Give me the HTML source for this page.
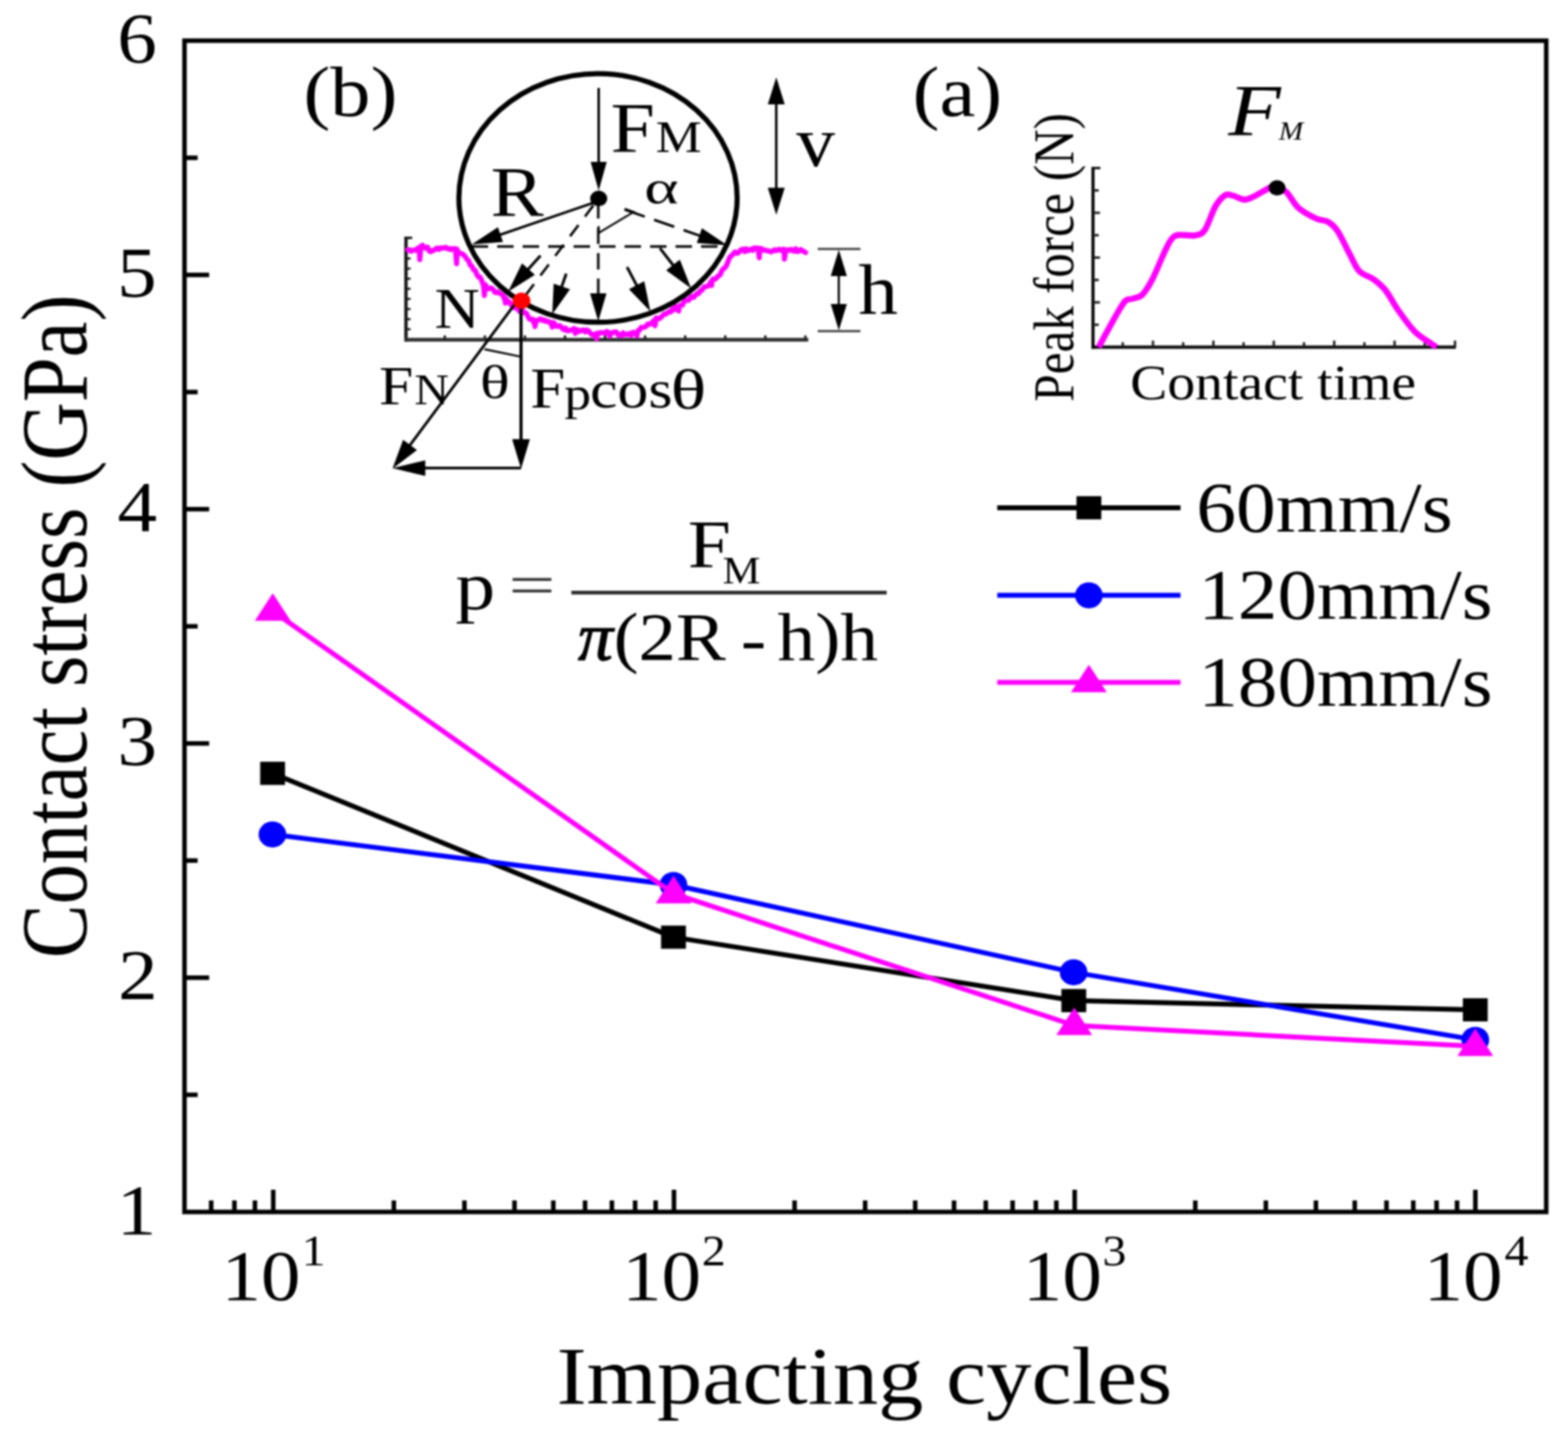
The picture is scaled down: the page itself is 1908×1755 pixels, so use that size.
<!DOCTYPE html>
<html lang="en">
<head>
<meta charset="utf-8">
<title>Contact stress vs impacting cycles</title>
<style>
html,body{margin:0;padding:0;background:#fff;}
body{width:1908px;height:1755px;overflow:hidden;}
svg{display:block;font-family:"Liberation Serif", "DejaVu Serif", serif;filter:blur(1px);}
text{white-space:pre;}
</style>
</head>
<body>
<svg width="1908" height="1755" viewBox="0 0 1908 1755">
<rect x="0" y="0" width="1908" height="1755" fill="#ffffff"/>
<rect x="224.5" y="49.5" width="1657.0" height="1425.5" fill="none" stroke="#000" stroke-width="5.5"/>
<line x1="224.50" y1="1332.45" x2="240.50" y2="1332.45" stroke="#000" stroke-width="5.5" stroke-linecap="butt"/>
<line x1="224.50" y1="1189.90" x2="254.50" y2="1189.90" stroke="#000" stroke-width="5.5" stroke-linecap="butt"/>
<line x1="224.50" y1="1047.35" x2="240.50" y2="1047.35" stroke="#000" stroke-width="5.5" stroke-linecap="butt"/>
<line x1="224.50" y1="904.80" x2="254.50" y2="904.80" stroke="#000" stroke-width="5.5" stroke-linecap="butt"/>
<line x1="224.50" y1="762.25" x2="240.50" y2="762.25" stroke="#000" stroke-width="5.5" stroke-linecap="butt"/>
<line x1="224.50" y1="619.70" x2="254.50" y2="619.70" stroke="#000" stroke-width="5.5" stroke-linecap="butt"/>
<line x1="224.50" y1="477.15" x2="240.50" y2="477.15" stroke="#000" stroke-width="5.5" stroke-linecap="butt"/>
<line x1="224.50" y1="334.60" x2="254.50" y2="334.60" stroke="#000" stroke-width="5.5" stroke-linecap="butt"/>
<line x1="224.50" y1="192.05" x2="240.50" y2="192.05" stroke="#000" stroke-width="5.5" stroke-linecap="butt"/>
<line x1="256.97" y1="1475.00" x2="256.97" y2="1461.00" stroke="#000" stroke-width="5.5" stroke-linecap="butt"/>
<line x1="285.25" y1="1475.00" x2="285.25" y2="1461.00" stroke="#000" stroke-width="5.5" stroke-linecap="butt"/>
<line x1="310.19" y1="1475.00" x2="310.19" y2="1461.00" stroke="#000" stroke-width="5.5" stroke-linecap="butt"/>
<line x1="332.50" y1="1475.00" x2="332.50" y2="1448.00" stroke="#000" stroke-width="5.5" stroke-linecap="butt"/>
<line x1="479.28" y1="1475.00" x2="479.28" y2="1461.00" stroke="#000" stroke-width="5.5" stroke-linecap="butt"/>
<line x1="565.14" y1="1475.00" x2="565.14" y2="1461.00" stroke="#000" stroke-width="5.5" stroke-linecap="butt"/>
<line x1="626.06" y1="1475.00" x2="626.06" y2="1461.00" stroke="#000" stroke-width="5.5" stroke-linecap="butt"/>
<line x1="673.32" y1="1475.00" x2="673.32" y2="1461.00" stroke="#000" stroke-width="5.5" stroke-linecap="butt"/>
<line x1="711.93" y1="1475.00" x2="711.93" y2="1461.00" stroke="#000" stroke-width="5.5" stroke-linecap="butt"/>
<line x1="744.57" y1="1475.00" x2="744.57" y2="1461.00" stroke="#000" stroke-width="5.5" stroke-linecap="butt"/>
<line x1="772.85" y1="1475.00" x2="772.85" y2="1461.00" stroke="#000" stroke-width="5.5" stroke-linecap="butt"/>
<line x1="797.79" y1="1475.00" x2="797.79" y2="1461.00" stroke="#000" stroke-width="5.5" stroke-linecap="butt"/>
<line x1="820.10" y1="1475.00" x2="820.10" y2="1448.00" stroke="#000" stroke-width="5.5" stroke-linecap="butt"/>
<line x1="966.88" y1="1475.00" x2="966.88" y2="1461.00" stroke="#000" stroke-width="5.5" stroke-linecap="butt"/>
<line x1="1052.74" y1="1475.00" x2="1052.74" y2="1461.00" stroke="#000" stroke-width="5.5" stroke-linecap="butt"/>
<line x1="1113.66" y1="1475.00" x2="1113.66" y2="1461.00" stroke="#000" stroke-width="5.5" stroke-linecap="butt"/>
<line x1="1160.92" y1="1475.00" x2="1160.92" y2="1461.00" stroke="#000" stroke-width="5.5" stroke-linecap="butt"/>
<line x1="1199.53" y1="1475.00" x2="1199.53" y2="1461.00" stroke="#000" stroke-width="5.5" stroke-linecap="butt"/>
<line x1="1232.17" y1="1475.00" x2="1232.17" y2="1461.00" stroke="#000" stroke-width="5.5" stroke-linecap="butt"/>
<line x1="1260.45" y1="1475.00" x2="1260.45" y2="1461.00" stroke="#000" stroke-width="5.5" stroke-linecap="butt"/>
<line x1="1285.39" y1="1475.00" x2="1285.39" y2="1461.00" stroke="#000" stroke-width="5.5" stroke-linecap="butt"/>
<line x1="1307.70" y1="1475.00" x2="1307.70" y2="1448.00" stroke="#000" stroke-width="5.5" stroke-linecap="butt"/>
<line x1="1454.48" y1="1475.00" x2="1454.48" y2="1461.00" stroke="#000" stroke-width="5.5" stroke-linecap="butt"/>
<line x1="1540.34" y1="1475.00" x2="1540.34" y2="1461.00" stroke="#000" stroke-width="5.5" stroke-linecap="butt"/>
<line x1="1601.26" y1="1475.00" x2="1601.26" y2="1461.00" stroke="#000" stroke-width="5.5" stroke-linecap="butt"/>
<line x1="1648.52" y1="1475.00" x2="1648.52" y2="1461.00" stroke="#000" stroke-width="5.5" stroke-linecap="butt"/>
<line x1="1687.13" y1="1475.00" x2="1687.13" y2="1461.00" stroke="#000" stroke-width="5.5" stroke-linecap="butt"/>
<line x1="1719.77" y1="1475.00" x2="1719.77" y2="1461.00" stroke="#000" stroke-width="5.5" stroke-linecap="butt"/>
<line x1="1748.05" y1="1475.00" x2="1748.05" y2="1461.00" stroke="#000" stroke-width="5.5" stroke-linecap="butt"/>
<line x1="1772.99" y1="1475.00" x2="1772.99" y2="1461.00" stroke="#000" stroke-width="5.5" stroke-linecap="butt"/>
<line x1="1795.30" y1="1475.00" x2="1795.30" y2="1448.00" stroke="#000" stroke-width="5.5" stroke-linecap="butt"/>
<text transform="translate(141.91,1501.50) scale(1.1000,1)" font-size="87.50" fill="#000">1</text>
<text transform="translate(143.72,1216.40) scale(1.1000,1)" font-size="87.50" fill="#000">2</text>
<text transform="translate(142.88,931.30) scale(1.1000,1)" font-size="87.50" fill="#000">3</text>
<text transform="translate(143.00,646.20) scale(1.1000,1)" font-size="87.50" fill="#000">4</text>
<text transform="translate(142.40,361.10) scale(1.1000,1)" font-size="87.50" fill="#000">5</text>
<text transform="translate(142.64,76.00) scale(1.1000,1)" font-size="87.50" fill="#000">6</text>
<text transform="translate(269.38,1581.50) scale(1.1000,1)" font-size="87.50" fill="#000">10</text>
<text transform="translate(366.90,1539.50) scale(1.1000,1)" font-size="53.00" fill="#000">1</text>
<text transform="translate(756.98,1581.50) scale(1.1000,1)" font-size="87.50" fill="#000">10</text>
<text transform="translate(853.98,1539.50) scale(1.1000,1)" font-size="53.00" fill="#000">2</text>
<text transform="translate(1244.58,1581.50) scale(1.1000,1)" font-size="87.50" fill="#000">10</text>
<text transform="translate(1341.43,1539.50) scale(1.1000,1)" font-size="53.00" fill="#000">3</text>
<text transform="translate(1732.18,1581.50) scale(1.1000,1)" font-size="87.50" fill="#000">10</text>
<text transform="translate(1830.63,1539.50) scale(1.1000,1)" font-size="53.00" fill="#000">4</text>
<text transform="translate(677.15,1707.80) scale(1.1014,1)" font-size="100.00" fill="#000">Impacting cycles</text>
<text transform="translate(105.00,1166.33) scale(1.1729,1) rotate(-90)" font-size="98.27" fill="#000">Contact stress (GPa)</text>
<polyline points="331.7,941.2 819.5,1140.6 1306.6,1217.8 1795.2,1229.0" fill="none" stroke="#000" stroke-width="6.0" stroke-linejoin="round"/>
<rect x="316.6" y="927.1" width="30.2" height="28.2" fill="#000"/>
<rect x="804.4" y="1126.5" width="30.2" height="28.2" fill="#000"/>
<rect x="1291.5" y="1203.7" width="30.2" height="28.2" fill="#000"/>
<rect x="1780.1" y="1214.9" width="30.2" height="28.2" fill="#000"/>
<polyline points="331.5,1015.6 819.5,1077.0 1306.4,1183.4 1795.2,1265.5" fill="none" stroke="#0000ff" stroke-width="6.0" stroke-linejoin="round"/>
<ellipse cx="331.5" cy="1015.6" rx="16.8" ry="15.8" fill="#0000ff"/>
<ellipse cx="819.5" cy="1077.0" rx="16.8" ry="15.8" fill="#0000ff"/>
<ellipse cx="1306.4" cy="1183.4" rx="16.8" ry="15.8" fill="#0000ff"/>
<ellipse cx="1795.2" cy="1265.5" rx="16.8" ry="15.8" fill="#0000ff"/>
<polyline points="331.9,743.8 819.7,1087.6 1307.2,1248.0 1795.2,1273.5" fill="none" stroke="#ff00ff" stroke-width="6.0" stroke-linejoin="round"/>
<polygon points="331.9,722.0 353.7,755.6 310.1,755.6" fill="#ff00ff"/>
<polygon points="819.7,1065.8 841.5,1099.4 797.9,1099.4" fill="#ff00ff"/>
<polygon points="1307.2,1226.2 1329.0,1259.8 1285.4,1259.8" fill="#ff00ff"/>
<polygon points="1795.2,1251.7 1817.0,1285.3 1773.4,1285.3" fill="#ff00ff"/>
<line x1="1213.50" y1="618.00" x2="1436.50" y2="618.00" stroke="#000" stroke-width="6" stroke-linecap="butt"/>
<rect x="1309.9" y="603.9" width="30.2" height="28.2" fill="#000"/>
<text transform="translate(1455.69,646.60) scale(1.1101,1)" font-size="87.20" fill="#000">60mm/s</text>
<line x1="1213.50" y1="724.60" x2="1436.50" y2="724.60" stroke="#0000ff" stroke-width="6" stroke-linecap="butt"/>
<ellipse cx="1325.0" cy="724.6" rx="16.8" ry="15.8" fill="#0000ff"/>
<text transform="translate(1458.29,753.20) scale(1.1026,1)" font-size="87.20" fill="#000">120mm/s</text>
<line x1="1213.50" y1="830.50" x2="1436.50" y2="830.50" stroke="#ff00ff" stroke-width="6" stroke-linecap="butt"/>
<polygon points="1325.0,809.0 1346.8,842.6 1303.2,842.6" fill="#ff00ff"/>
<text transform="translate(1458.29,859.10) scale(1.1026,1)" font-size="87.20" fill="#000">180mm/s</text>
<text transform="translate(554.25,740.70) scale(1.1713,1)" font-size="82.50" fill="#000">p</text>
<text transform="translate(618.84,735.60) scale(1.4470,1)" font-size="70.00" fill="#333">=</text>
<line x1="695.20" y1="721.30" x2="1078.90" y2="721.30" stroke="#2a2a2a" stroke-width="4.6" stroke-linecap="butt"/>
<text transform="translate(837.08,690.20) scale(1.1473,1)" font-size="82.00" fill="#000">F</text>
<text transform="translate(879.25,710.10) scale(1.1386,1)" font-size="45.50" fill="#000">M</text>
<text transform="translate(703.17,803.40) scale(1.0392,1)" font-size="82.00" font-style="italic" fill="#000" stroke="#000" stroke-width="1.3">π</text>
<text transform="translate(746.71,803.40) scale(1.1091,1)" font-size="82.00" fill="#000">(2R</text>
<text transform="translate(901.42,805.40) scale(1.1304,1)" font-size="82.00" fill="#000">-</text>
<text transform="translate(945.88,803.40) scale(1.1227,1)" font-size="82.00" fill="#000">h)h</text>
<line x1="494.00" y1="288.00" x2="494.00" y2="415.70" stroke="#1a1a1a" stroke-width="4.2" stroke-linecap="butt"/>
<line x1="492.00" y1="413.50" x2="983.50" y2="413.50" stroke="#2e2e2e" stroke-width="4.4" stroke-linecap="butt"/>
<line x1="494.00" y1="289.50" x2="501.50" y2="289.50" stroke="#1a1a1a" stroke-width="3" stroke-linecap="butt"/>
<line x1="494.00" y1="400.70" x2="499.60" y2="400.70" stroke="#1a1a1a" stroke-width="2.6" stroke-linecap="butt"/>
<line x1="494.00" y1="388.40" x2="499.60" y2="388.40" stroke="#1a1a1a" stroke-width="2.6" stroke-linecap="butt"/>
<line x1="494.00" y1="376.10" x2="499.60" y2="376.10" stroke="#1a1a1a" stroke-width="2.6" stroke-linecap="butt"/>
<line x1="494.00" y1="363.80" x2="499.60" y2="363.80" stroke="#1a1a1a" stroke-width="2.6" stroke-linecap="butt"/>
<line x1="494.00" y1="351.50" x2="499.60" y2="351.50" stroke="#1a1a1a" stroke-width="2.6" stroke-linecap="butt"/>
<line x1="494.00" y1="339.20" x2="499.60" y2="339.20" stroke="#1a1a1a" stroke-width="2.6" stroke-linecap="butt"/>
<line x1="494.00" y1="326.90" x2="499.60" y2="326.90" stroke="#1a1a1a" stroke-width="2.6" stroke-linecap="butt"/>
<line x1="494.00" y1="314.60" x2="499.60" y2="314.60" stroke="#1a1a1a" stroke-width="2.6" stroke-linecap="butt"/>
<line x1="494.00" y1="302.30" x2="499.60" y2="302.30" stroke="#1a1a1a" stroke-width="2.6" stroke-linecap="butt"/>
<line x1="541.25" y1="413.00" x2="541.25" y2="408.20" stroke="#1a1a1a" stroke-width="2.8" stroke-linecap="butt"/>
<line x1="590.00" y1="413.00" x2="590.00" y2="408.20" stroke="#1a1a1a" stroke-width="2.8" stroke-linecap="butt"/>
<line x1="638.75" y1="413.00" x2="638.75" y2="408.20" stroke="#1a1a1a" stroke-width="2.8" stroke-linecap="butt"/>
<line x1="687.50" y1="413.00" x2="687.50" y2="408.20" stroke="#1a1a1a" stroke-width="2.8" stroke-linecap="butt"/>
<line x1="736.25" y1="413.00" x2="736.25" y2="408.20" stroke="#1a1a1a" stroke-width="2.8" stroke-linecap="butt"/>
<line x1="785.00" y1="413.00" x2="785.00" y2="408.20" stroke="#1a1a1a" stroke-width="2.8" stroke-linecap="butt"/>
<line x1="833.75" y1="413.00" x2="833.75" y2="408.20" stroke="#1a1a1a" stroke-width="2.8" stroke-linecap="butt"/>
<line x1="882.50" y1="413.00" x2="882.50" y2="408.20" stroke="#1a1a1a" stroke-width="2.8" stroke-linecap="butt"/>
<line x1="931.25" y1="413.00" x2="931.25" y2="408.20" stroke="#1a1a1a" stroke-width="2.8" stroke-linecap="butt"/>
<line x1="980.00" y1="413.00" x2="980.00" y2="408.20" stroke="#1a1a1a" stroke-width="2.8" stroke-linecap="butt"/>
<polyline points="496.2,304.0 498.2,304.5 500.2,305.9 502.2,304.3 504.2,304.5 506.2,304.7 508.2,302.1 509.2,302.8 510.2,302.7 510.8,315.9 512.2,299.6 512.4,300.3 514.2,298.5 516.2,301.3 518.2,302.0 520.2,300.7 522.2,305.4 524.2,306.3 526.2,304.9 528.2,304.6 530.2,302.6 532.2,301.9 534.2,303.6 536.2,301.6 538.2,301.9 540.2,301.9 542.2,301.0 544.2,302.6 546.2,302.4 548.2,303.8 550.2,302.5 552.2,302.9 554.0,302.7 554.2,303.5 555.6,320.8 556.2,303.3 557.2,306.7 558.2,307.4 560.2,308.2 562.2,309.0 564.2,310.2 566.2,312.5 568.2,315.4 570.2,317.3 572.2,322.6 574.2,323.8 576.2,328.2 578.2,329.0 580.2,334.0 582.2,337.1 584.2,337.4 586.2,341.5 587.8,346.2 588.2,345.0 589.4,359.6 590.2,347.2 591.0,346.9 592.2,350.1 594.2,351.5 596.2,350.5 598.2,350.7 600.2,352.5 602.2,355.8 604.2,356.1 606.2,355.2 608.2,357.1 610.2,358.0 612.2,359.3 613.4,363.3 614.2,361.8 615.0,368.8 616.2,364.8 616.6,364.3 618.2,367.9 620.2,367.7 622.2,371.6 624.2,371.6 626.2,374.8 628.2,375.1 630.2,375.9 632.2,379.2 634.2,379.2 636.2,378.0 638.2,380.8 640.2,380.8 642.2,384.4 644.2,388.3 646.2,388.9 648.2,388.4 649.4,392.7 650.2,390.3 651.0,397.3 652.2,392.1 652.6,390.3 654.2,389.8 656.2,388.5 658.2,388.1 660.2,390.1 662.2,389.3 664.2,391.2 666.2,390.8 668.2,391.6 670.2,394.1 670.4,392.3 672.0,398.1 672.2,394.6 673.6,392.7 674.2,392.9 676.2,396.8 678.2,397.4 680.2,396.3 682.2,396.9 684.2,399.8 686.2,401.4 688.2,399.4 690.2,402.6 692.2,402.5 694.2,401.7 696.2,401.2 698.2,400.1 698.4,399.9 700.0,405.8 700.2,400.9 701.6,402.8 702.2,401.1 704.2,403.5 706.2,402.8 708.2,401.8 710.2,401.6 712.2,403.9 714.2,401.6 716.2,402.9 718.2,405.2 720.2,407.3 722.2,407.4 724.2,406.9 724.4,409.3 726.0,412.3 726.2,405.5 727.6,406.1 728.2,406.7 730.2,404.8 732.2,404.8 734.2,405.2 736.2,405.5 738.2,403.4 740.2,404.5 740.4,406.5 742.0,409.2 742.2,405.8 743.6,406.1 744.2,405.7 746.2,404.3 748.2,404.1 750.2,404.2 752.2,407.8 754.2,407.3 756.2,408.5 758.2,405.1 760.2,407.4 762.2,406.7 764.2,407.4 766.2,405.7 768.2,408.1 770.2,404.5 772.2,405.2 773.4,405.0 774.2,404.9 775.0,408.8 776.2,402.5 776.6,402.6 778.2,401.7 780.2,398.3 782.2,398.5 784.2,398.2 786.2,397.1 788.2,394.3 790.2,394.6 792.2,393.8 794.2,391.6 795.4,391.0 796.2,389.6 797.0,396.5 798.2,389.1 798.6,386.8 800.2,387.9 802.2,387.9 804.2,386.1 806.2,384.3 808.2,382.0 810.2,382.3 812.2,380.7 814.2,379.2 816.2,379.7 818.2,375.8 820.2,377.1 822.2,373.1 824.2,374.0 824.4,373.4 826.0,378.5 826.2,373.1 827.6,371.5 828.2,371.6 830.2,371.5 832.2,367.6 834.2,365.4 836.2,365.2 838.2,365.3 840.2,362.2 842.2,360.7 844.2,361.9 846.2,359.4 848.2,357.0 850.2,357.2 852.2,353.5 854.2,353.1 856.2,349.7 858.2,348.9 860.2,348.7 862.2,347.4 864.2,345.6 864.4,343.6 866.0,347.5 866.2,341.7 867.6,339.6 868.2,340.4 870.2,339.8 872.2,338.0 874.2,335.5 876.2,334.5 878.2,329.7 880.2,327.0 882.2,325.8 884.2,322.6 886.2,317.3 888.2,312.9 890.2,311.2 892.2,309.0 894.2,306.7 896.2,308.1 898.2,308.0 900.2,305.4 902.2,303.7 904.2,303.2 906.2,306.2 908.2,302.8 910.2,305.1 912.2,304.3 914.2,303.0 916.2,304.6 918.2,301.6 920.2,302.2 922.2,303.6 922.4,301.9 924.0,313.8 924.2,302.9 925.6,302.6 926.2,302.3 928.2,304.6 930.2,304.0 932.2,304.9 934.2,305.1 936.2,305.8 938.2,306.5 940.2,305.7 942.2,304.0 944.2,305.2 946.2,304.3 948.2,303.3 950.2,304.8 952.2,305.4 952.9,303.3 954.2,303.5 954.5,315.3 956.1,304.8 956.2,304.1 958.2,304.2 960.2,304.6 962.2,303.4 964.2,305.1 966.2,305.7 968.2,302.8 970.2,306.2 972.2,305.6 974.2,303.6 976.2,305.1 978.2,306.0 980.2,307.3" fill="none" stroke="#ff00ff" stroke-width="6.2" stroke-linejoin="round" stroke-linecap="round"/>
<ellipse cx="727.7" cy="240.9" rx="169.3" ry="151.3" fill="none" stroke="#000" stroke-width="6.2"/>
<line x1="574.00" y1="300.00" x2="883.00" y2="300.00" stroke="#000" stroke-width="3" stroke-linecap="butt" stroke-dasharray="20 11"/>
<line x1="728.00" y1="246.00" x2="728.00" y2="360.40" stroke="#000" stroke-width="3" stroke-dasharray="20 11" stroke-dashoffset="0"/>
<polygon points="728.00,391.00 718.00,357.00 738.00,357.00" fill="#000"/>
<line x1="760.00" y1="255.00" x2="854.40" y2="287.85" stroke="#000" stroke-width="3" stroke-dasharray="26 12" stroke-dashoffset="0"/>
<polygon points="885.00,298.50 847.88,295.64 854.12,277.70" fill="#000"/>
<line x1="722.00" y1="250.00" x2="636.00" y2="364.00" stroke="#000" stroke-width="3" stroke-linecap="butt" stroke-dasharray="17 13"/>
<line x1="657.70" y1="311.10" x2="640.54" y2="330.22" stroke="#000" stroke-width="3.4"/>
<polygon points="618.30,355.00 635.20,320.45 650.83,334.48" fill="#000"/>
<line x1="689.00" y1="333.00" x2="682.50" y2="351.95" stroke="#000" stroke-width="3.4"/>
<polygon points="672.00,382.60 673.74,345.14 693.60,351.95" fill="#000"/>
<line x1="763.00" y1="325.00" x2="776.32" y2="350.32" stroke="#000" stroke-width="3.4"/>
<polygon points="791.40,379.00 765.35,352.03 783.94,342.25" fill="#000"/>
<line x1="803.00" y1="302.00" x2="821.14" y2="325.40" stroke="#000" stroke-width="3.4"/>
<polygon points="841.00,351.00 810.64,328.99 827.24,316.12" fill="#000"/>
<line x1="728.50" y1="283.50" x2="771.00" y2="258.00" stroke="#000" stroke-width="2.2" stroke-linecap="butt"/>
<line x1="728.50" y1="283.50" x2="728.50" y2="275.00" stroke="#000" stroke-width="2.2" stroke-linecap="butt"/>
<line x1="760.00" y1="254.00" x2="773.00" y2="258.50" stroke="#000" stroke-width="2.2" stroke-linecap="butt"/>
<line x1="726.00" y1="245.50" x2="605.51" y2="286.72" stroke="#000" stroke-width="3.0"/>
<polygon points="574.00,297.50 605.93,276.53 612.08,294.51" fill="#000"/>
<line x1="728.50" y1="107.00" x2="728.50" y2="200.50" stroke="#000" stroke-width="3.0"/>
<polygon points="728.50,232.00 718.70,197.00 738.30,197.00" fill="#000"/>
<ellipse cx="728.5" cy="241.6" rx="10.5" ry="9.5" fill="#000"/>
<line x1="629.50" y1="366.00" x2="496.83" y2="544.50" stroke="#000" stroke-width="3.3"/>
<polygon points="477.50,570.50 490.55,535.34 507.40,547.87" fill="#000"/>
<line x1="634.00" y1="368.00" x2="634.00" y2="538.00" stroke="#000" stroke-width="3.8"/>
<polygon points="634.00,570.40 623.20,534.40 644.80,534.40" fill="#000"/>
<line x1="634.00" y1="569.70" x2="513.50" y2="569.70" stroke="#000" stroke-width="3.3"/>
<polygon points="477.50,569.70 517.50,560.20 517.50,579.20" fill="#000"/>
<line x1="589.50" y1="425.00" x2="632.50" y2="433.80" stroke="#000" stroke-width="2.3" stroke-linecap="butt"/>
<ellipse cx="634.6" cy="366" rx="10.8" ry="10" fill="#ff0000"/>
<line x1="944.60" y1="123.70" x2="944.60" y2="231.90" stroke="#000" stroke-width="3.0"/>
<polygon points="944.60,261.60 934.30,228.60 954.90,228.60" fill="#000"/>
<polygon points="944.60,94.00 934.30,127.00 954.90,127.00" fill="#000"/>
<line x1="995.00" y1="303.00" x2="1047.00" y2="303.00" stroke="#333" stroke-width="2.6" stroke-linecap="butt"/>
<line x1="995.00" y1="403.00" x2="1047.00" y2="403.00" stroke="#333" stroke-width="2.6" stroke-linecap="butt"/>
<line x1="1020.70" y1="332.80" x2="1020.70" y2="373.20" stroke="#000" stroke-width="2.6"/>
<polygon points="1020.70,402.00 1010.90,370.00 1030.50,370.00" fill="#000"/>
<polygon points="1020.70,304.00 1010.90,336.00 1030.50,336.00" fill="#000"/>
<text transform="translate(369.19,141.40) scale(1.1250,1)" font-size="87.20" fill="#000">(b)</text>
<text transform="translate(597.09,263.00) scale(1.1200,1)" font-size="86.50" fill="#000">R</text>
<text transform="translate(743.09,185.00) scale(1.1200,1)" font-size="86.50" fill="#000">F</text>
<text transform="translate(798.12,185.00) scale(1.1200,1)" font-size="56.00" fill="#000">M</text>
<text transform="translate(784.02,247.00) scale(1.3719,1)" font-size="58.00" fill="#000">α</text>
<text transform="translate(969.00,202.00) scale(1.0800,1)" font-size="87.00" fill="#000">v</text>
<text transform="translate(1044.54,381.50) scale(1.1200,1)" font-size="86.00" fill="#000">h</text>
<text transform="translate(528.71,399.00) scale(1.0900,1)" font-size="70.00" fill="#000">N</text>
<text transform="translate(461.36,492.00) scale(1.1000,1)" font-size="68.00" fill="#000">F</text>
<text transform="translate(504.25,492.00) scale(1.1200,1)" font-size="52.00" fill="#000">N</text>
<text transform="translate(583.91,484.00) scale(1.3507,1)" font-size="56.00" fill="#000">θ</text>
<text transform="translate(645.21,496.00) scale(1.1000,1)" font-size="69.50" fill="#000">F</text>
<text transform="translate(686.63,498.00) scale(1.1200,1)" font-size="58.00" fill="#000">p</text>
<text transform="translate(717.88,496.00) scale(1.1412,1)" font-size="66.00" fill="#000">cos</text>
<text transform="translate(815.99,496.50) scale(1.3348,1)" font-size="68.00" fill="#000">θ</text>
<text transform="translate(1110.59,141.40) scale(1.1250,1)" font-size="87.20" fill="#000">(a)</text>
<line x1="1330.00" y1="203.00" x2="1330.00" y2="424.40" stroke="#0a0a0a" stroke-width="3.9" stroke-linecap="butt"/>
<line x1="1328.10" y1="422.50" x2="1771.50" y2="422.50" stroke="#0a0a0a" stroke-width="3.9" stroke-linecap="butt"/>
<line x1="1330.00" y1="204.50" x2="1339.00" y2="204.50" stroke="#1a1a1a" stroke-width="3.0" stroke-linecap="butt"/>
<line x1="1330.00" y1="395.25" x2="1337.00" y2="395.25" stroke="#1a1a1a" stroke-width="2.8" stroke-linecap="butt"/>
<line x1="1330.00" y1="368.00" x2="1338.50" y2="368.00" stroke="#1a1a1a" stroke-width="2.8" stroke-linecap="butt"/>
<line x1="1330.00" y1="340.75" x2="1337.00" y2="340.75" stroke="#1a1a1a" stroke-width="2.8" stroke-linecap="butt"/>
<line x1="1330.00" y1="313.50" x2="1338.50" y2="313.50" stroke="#1a1a1a" stroke-width="2.8" stroke-linecap="butt"/>
<line x1="1330.00" y1="286.25" x2="1337.00" y2="286.25" stroke="#1a1a1a" stroke-width="2.8" stroke-linecap="butt"/>
<line x1="1330.00" y1="259.00" x2="1338.50" y2="259.00" stroke="#1a1a1a" stroke-width="2.8" stroke-linecap="butt"/>
<line x1="1330.00" y1="231.75" x2="1337.00" y2="231.75" stroke="#1a1a1a" stroke-width="2.8" stroke-linecap="butt"/>
<line x1="1366.25" y1="422.50" x2="1366.25" y2="416.50" stroke="#1a1a1a" stroke-width="2.8" stroke-linecap="butt"/>
<line x1="1403.00" y1="422.50" x2="1403.00" y2="414.50" stroke="#1a1a1a" stroke-width="2.8" stroke-linecap="butt"/>
<line x1="1439.75" y1="422.50" x2="1439.75" y2="416.50" stroke="#1a1a1a" stroke-width="2.8" stroke-linecap="butt"/>
<line x1="1476.50" y1="422.50" x2="1476.50" y2="414.50" stroke="#1a1a1a" stroke-width="2.8" stroke-linecap="butt"/>
<line x1="1513.25" y1="422.50" x2="1513.25" y2="416.50" stroke="#1a1a1a" stroke-width="2.8" stroke-linecap="butt"/>
<line x1="1550.00" y1="422.50" x2="1550.00" y2="414.50" stroke="#1a1a1a" stroke-width="2.8" stroke-linecap="butt"/>
<line x1="1586.75" y1="422.50" x2="1586.75" y2="416.50" stroke="#1a1a1a" stroke-width="2.8" stroke-linecap="butt"/>
<line x1="1623.50" y1="422.50" x2="1623.50" y2="414.50" stroke="#1a1a1a" stroke-width="2.8" stroke-linecap="butt"/>
<line x1="1660.25" y1="422.50" x2="1660.25" y2="416.50" stroke="#1a1a1a" stroke-width="2.8" stroke-linecap="butt"/>
<line x1="1697.00" y1="422.50" x2="1697.00" y2="414.50" stroke="#1a1a1a" stroke-width="2.8" stroke-linecap="butt"/>
<line x1="1733.75" y1="422.50" x2="1733.75" y2="416.50" stroke="#1a1a1a" stroke-width="2.8" stroke-linecap="butt"/>
<line x1="1770.50" y1="422.50" x2="1770.50" y2="414.50" stroke="#1a1a1a" stroke-width="2.8" stroke-linecap="butt"/>
<path d="M1337.0,422.4 C1340.3,416.3 1351.7,395.0 1357.0,385.7 C1362.3,376.4 1365.5,370.3 1369.0,366.6 C1372.5,362.9 1374.5,364.9 1378.0,363.6 C1381.5,362.3 1385.8,362.7 1389.7,359.0 C1393.6,355.3 1397.0,349.9 1401.4,341.6 C1405.8,333.3 1412.1,317.3 1416.0,309.0 C1419.9,300.7 1422.0,295.5 1425.0,291.7 C1428.0,287.9 1428.9,286.9 1433.7,286.0 C1438.5,285.1 1448.6,287.5 1454.0,286.5 C1459.4,285.5 1461.8,285.9 1466.0,280.0 C1470.2,274.1 1474.8,258.1 1479.0,251.0 C1483.2,243.9 1487.5,239.7 1491.0,237.5 C1494.5,235.3 1496.2,237.1 1500.0,238.0 C1503.8,238.9 1509.7,242.8 1514.0,243.0 C1518.3,243.2 1520.8,241.4 1526.0,239.0 C1531.2,236.6 1540.3,230.6 1545.0,228.5 C1549.7,226.4 1550.5,225.5 1554.0,226.5 C1557.5,227.5 1561.7,230.1 1566.0,234.5 C1570.3,238.9 1574.1,247.8 1580.0,253.0 C1585.9,258.2 1595.6,263.2 1601.6,266.0 C1607.6,268.8 1611.7,267.5 1616.0,270.0 C1620.3,272.5 1623.2,274.7 1627.5,281.0 C1631.8,287.3 1637.3,299.8 1641.7,308.0 C1646.1,316.2 1649.0,324.7 1654.0,330.0 C1659.0,335.3 1666.2,336.1 1671.5,340.0 C1676.8,343.9 1681.1,347.2 1686.0,353.4 C1690.9,359.6 1695.2,368.7 1701.0,377.0 C1706.8,385.3 1714.7,396.4 1721.0,403.0 C1727.3,409.6 1734.5,413.3 1739.0,416.5 C1743.5,419.7 1746.5,421.4 1748.0,422.4" fill="none" stroke="#ff00ff" stroke-width="7.4" stroke-linejoin="round"/>
<ellipse cx="1554" cy="228.6" rx="10.3" ry="9.3" fill="#000"/>
<text transform="translate(1494.52,163.80) scale(1.1909,1)" font-size="88.00" font-style="italic" fill="#000">F</text>
<text transform="translate(1556.05,169.70) scale(1.1200,1)" font-size="32.00" font-style="italic" fill="#000">M</text>
<text transform="translate(1375.29,485.50) scale(1.1193,1)" font-size="60.50" fill="#000">Contact time</text>
<text transform="translate(1306.00,488.79) scale(1.1764,1) rotate(-90)" font-size="59.70" fill="#000">Peak force (N)</text>
</svg>
</body>
</html>
